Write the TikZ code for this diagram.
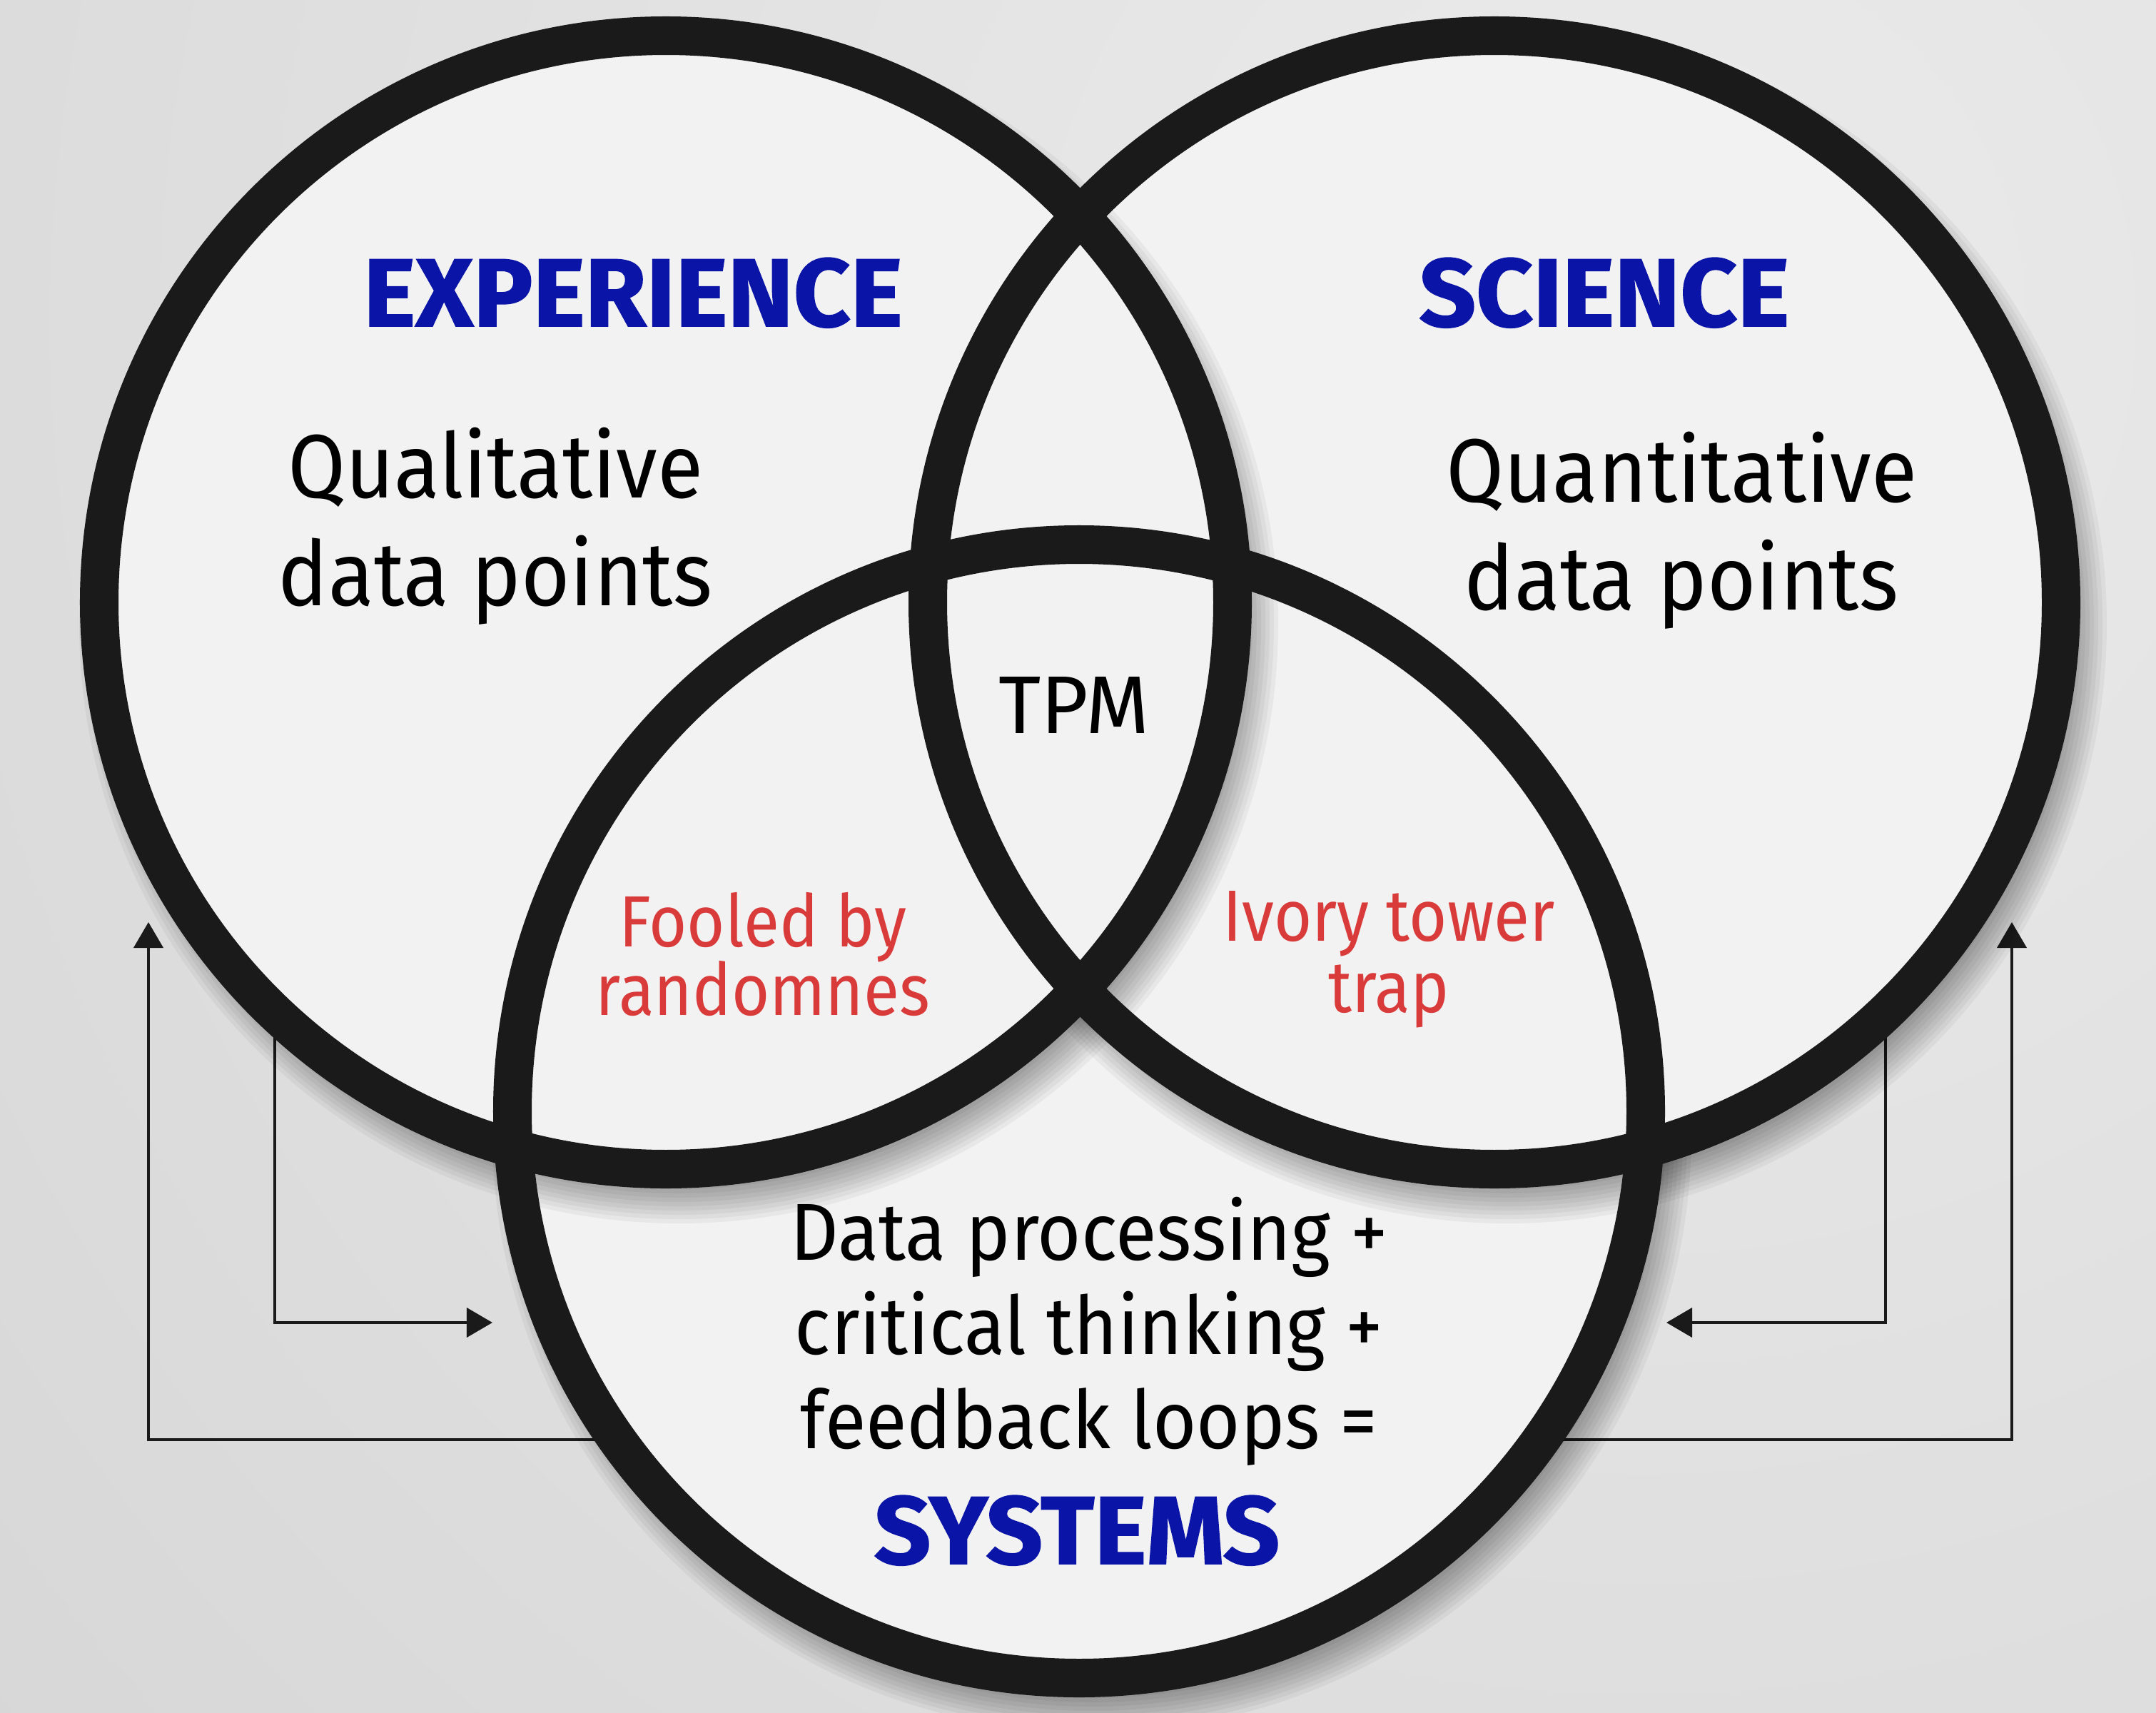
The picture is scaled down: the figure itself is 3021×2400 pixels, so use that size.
\documentclass[tikz,border=0pt]{standalone}
\usepackage{fontspec}
\setmainfont{Fira Sans}
\newfontfamily\bodyfont{Fira Sans}[FakeStretch=0.93]
\newfontfamily\redfont{Fira Sans}[FakeStretch=0.9]
\newfontfamily\headfont{Fira Sans}[FakeStretch=1.03, FakeBold=1.2]
\usetikzlibrary{arrows.meta}
\definecolor{bgA}{HTML}{EBEBEB}
\definecolor{bgB}{HTML}{C4C4C4}
\definecolor{fillc}{HTML}{F2F2F2}
\definecolor{ringc}{HTML}{1A1A1A}
\definecolor{headblue}{HTML}{0A14A6}
\definecolor{trapred}{HTML}{D93A3A}
\begin{document}
\begin{tikzpicture}[x=0.01cm,y=-0.01cm,
  ring/.style={draw=ringc, line width=0.54cm},
  disc/.style={fill=fillc},
  flow/.style={draw=ringc, line width=0.04cm, -{Triangle[length=0.36cm,width=0.41cm]}},
  head/.style={font=\headfont\fontsize{38.4}{38.4}\selectfont\bfseries, text=headblue, inner sep=0, anchor=base},
  body/.style={font=\bodyfont\fontsize{35.9}{36}\selectfont, text=black, inner sep=0, anchor=base},
  mid/.style={font=\fontsize{32.6}{33}\selectfont, text=black, inner sep=0, anchor=base},
  sysline/.style={font=\bodyfont\fontsize{32.2}{33}\selectfont, text=black, inner sep=0, anchor=base},
  trap/.style={font=\redfont\fontsize{28.9}{29}\selectfont, text=trapred, inner sep=0, anchor=base}
]
\useasboundingbox (0,0) rectangle (3021,2400);
% background
\begin{scope}
  \clip (0,0) rectangle (3021,2400);
  \shade[inner color=bgA, outer color=bgB] (2300,450) circle (6000);
\end{scope}
% centres
\coordinate (L) at (933,844);
\coordinate (R) at (2094,844);
\coordinate (B) at (1512,1557);
% arrow points
\coordinate (l1s) at (385,1440);
\coordinate (l1e) at (690,1853);
\coordinate (l2s) at (860,2017);
\coordinate (l2e) at (208,1292);
\coordinate (r1s) at (2642,1440);
\coordinate (r1e) at (2335,1853);
\coordinate (r2s) at (2165,2017);
\coordinate (r2e) at (2819,1292);
\draw[flow] (l1s) |- (l1e);
\draw[flow] (l2s) -| (l2e);
\draw[flow] (r1s) |- (r1e);
\draw[flow] (r2s) -| (r2e);
% shadows and fills
\foreach \c in {B,R,L} {
  \foreach \k in {0,...,9}
    \fill[black, opacity=0.045] ([shift={(18,30)}]\c) circle ({786+6*\k});
  \fill[disc] (\c) circle (794);
}
% rings
\draw[ring] (L) circle (794);
\draw[ring] (R) circle (794);
\draw[ring] (B) circle (794);
% texts
\node[head] (exphead) at (887,457) {EXPERIENCE};
\node[head] (scihead) at (2248,457) {SCIENCE};
\node[body] (qual1) at (694,697) {Qualitative};
\node[body] (qual2) at (694,848) {data points};
\node[body] (quan1) at (2356,703) {Quantitative};
\node[body] (quan2) at (2356,854) {data points};
\node[mid] (tpm) at (1505,1027) {TPM};
\node[trap] (fool1) at (1069,1326) {Fooled by};
\node[trap] (fool2) at (1069,1422) {randomnes};
\node[trap] (ivory1) at (1946,1318) {Ivory tower};
\node[trap] (ivory2) at (1946,1418) {trap};
\node[sysline] (sys1) at (1526,1765) {Data processing +};
\node[sysline] (sys2) at (1526,1897) {critical thinking +};
\node[sysline] (sys3) at (1526,2029) {feedback loops =};
\node[head] (syshead) at (1509,2191) {SYSTEMS};
\end{tikzpicture}
\end{document}
